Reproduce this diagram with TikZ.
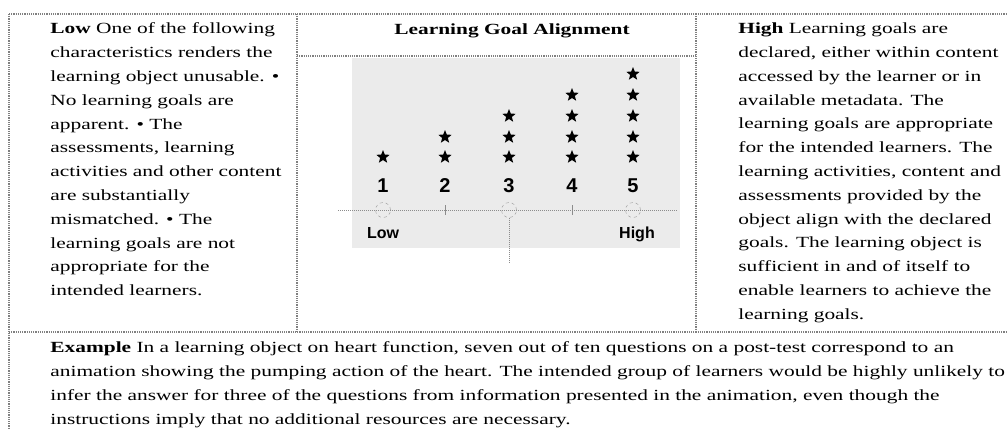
\documentclass[tikz,border=0pt]{standalone}
\usepackage{fontspec}
\setmainfont{Liberation Serif}[FakeStretch=1.38]
\newfontfamily\chartfont{Liberation Sans}
\usetikzlibrary{shapes}
\usetikzlibrary{positioning}

\begin{document}
\begin{tikzpicture}[
    x=1pt, y=-1pt,
    thick,
    font=\fontsize{15.5}{23.8}\selectfont
]
\tikzset{
    cellnode/.style = {anchor=north west, align=left, inner sep=0pt},
    ruleline/.style = {line width=1.2pt, black!50, densely dotted},
    starnode/.style = {star, star points=5, star point ratio=2.3, fill=black, minimum size=14pt, inner sep=0pt},
    digitnode/.style = {anchor=base, inner sep=0pt, font=\chartfont\bfseries\fontsize{20}{20}\selectfont},
    endnode/.style = {anchor=base, inner sep=0pt, font=\chartfont\bfseries\fontsize{16}{16}\selectfont},
    axisline/.style = {black!45, line width=1pt, densely dotted},
    ringnode/.style = {circle, draw=black!40, dashed, thin, minimum size=15pt, inner sep=0pt}
}
\useasboundingbox (0,0) rectangle (1007,429);
% chart background
\fill[black!8] (352,58) rectangle (680,248);
% table rules
\coordinate (tl) at (9,14);
\coordinate (tr) at (1007,14);
\coordinate (bl) at (9,429);
\coordinate (c1) at (297,14);
\coordinate (c2) at (696,14);
\coordinate (h1) at (297,56);
\coordinate (h2) at (696,56);
\coordinate (m1) at (297,332);
\coordinate (m2) at (696,332);
\coordinate (ml) at (9,332);
\coordinate (mr) at (1007,332);
\draw[ruleline] (tl) -- (tr);
\draw[ruleline] (tl) -- (bl);
\draw[ruleline] (c1) -- (m1);
\draw[ruleline] (c2) -- (m2);
\draw[ruleline] (h1) -- (h2);
\draw[ruleline] (ml) -- (mr);
% cells
\node[cellnode] at (50,22.6) (low) {\textbf{Low} One of the following\\
characteristics renders the\\
learning object unusable. •\\
No learning goals are\\
apparent. • The\\
assessments, learning\\
activities and other content\\
are substantially\\
mismatched. • The\\
learning goals are not\\
appropriate for the\\
intended learners.};
\node[anchor=base, inner sep=0pt] at (512,34) (title) {\textbf{Learning Goal Alignment}};
\node[cellnode] at (738,22.6) (high) {\textbf{High} Learning goals are\\
declared, either within content\\
accessed by the learner or in\\
available metadata. The\\
learning goals are appropriate\\
for the intended learners. The\\
learning activities, content and\\
assessments provided by the\\
object align with the declared\\
goals. The learning object is\\
sufficient in and of itself to\\
enable learners to achieve the\\
learning goals.};
\node[cellnode] at (50,341.3) (example) {\textbf{Example} In a learning object on heart function, seven out of ten questions on a post-test correspond to an\\
animation showing the pumping action of the heart. The intended group of learners would be highly unlikely to\\
infer the answer for three of the questions from information presented in the animation, even though the\\
instructions imply that no additional resources are necessary.};
% rating scale
\coordinate (axl) at (338,210);
\coordinate (axr) at (678,210);
\draw[axisline] (axl) -- (axr);
\node[ringnode] at (383,210) (r1) {};
\node[ringnode] at (509,210) (r3) {};
\node[ringnode] at (633,210) (r5) {};
\coordinate (t2a) at (445,205);
\coordinate (t2b) at (445,215);
\coordinate (t4a) at (572,205);
\coordinate (t4b) at (572,215);
\draw[black!45, thin] (t2a) -- (t2b);
\draw[black!45, thin] (t4a) -- (t4b);
\coordinate (vb) at (509,262);
\draw[axisline] (r3) -- (vb);
\node[digitnode] at (383,192) (n1) {1};
\node[digitnode] at (445,192) (n2) {2};
\node[digitnode] at (509,192) (n3) {3};
\node[digitnode] at (572,192) (n4) {4};
\node[digitnode] at (633,192) (n5) {5};
\node[endnode] at (383,238) (lowend) {Low};
\node[endnode] at (637,238) (highend) {High};
% stars
\node[starnode] at (383,157) (s11) {};
\node[starnode] at (445,157) (s21) {};
\node[starnode] at (445,137) (s22) {};
\node[starnode] at (509,157) (s31) {};
\node[starnode] at (509,137) (s32) {};
\node[starnode] at (509,116) (s33) {};
\node[starnode] at (572,157) (s41) {};
\node[starnode] at (572,137) (s42) {};
\node[starnode] at (572,116) (s43) {};
\node[starnode] at (572,95) (s44) {};
\node[starnode] at (633,157) (s51) {};
\node[starnode] at (633,137) (s52) {};
\node[starnode] at (633,116) (s53) {};
\node[starnode] at (633,95) (s54) {};
\node[starnode] at (633,74) (s55) {};
\end{tikzpicture}
\end{document}
